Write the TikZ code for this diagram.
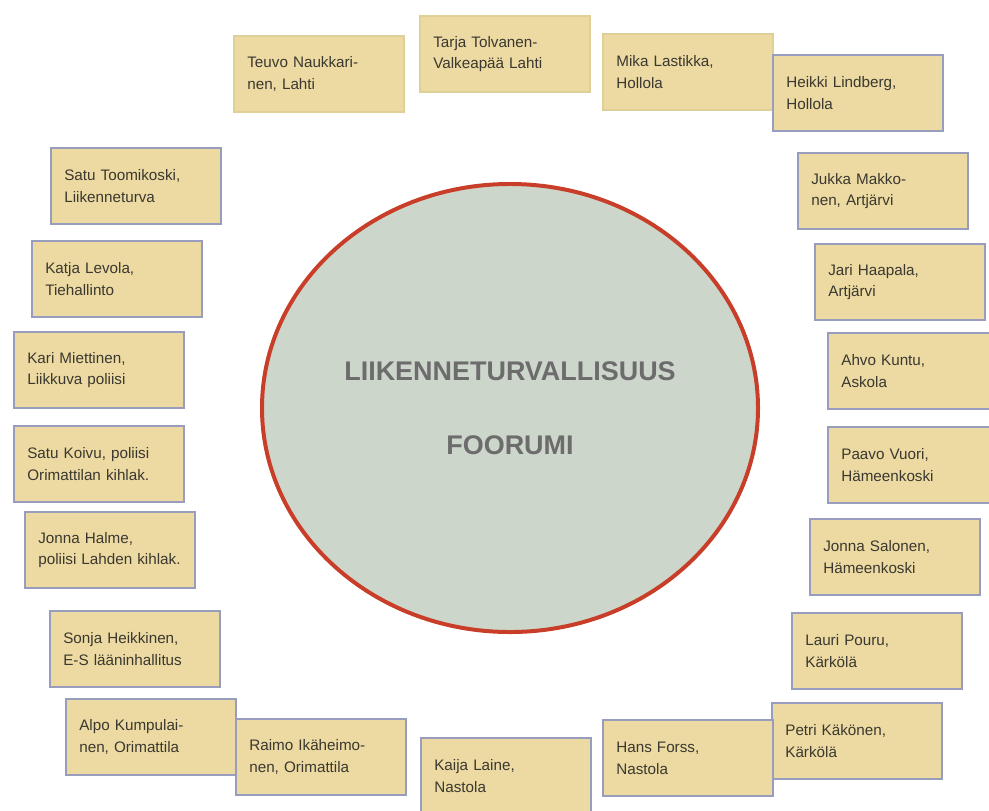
\documentclass[tikz,border=0pt]{standalone}
\usepackage{fontspec}
\setmainfont{Liberation Sans}
\usepackage{tikz}
\usetikzlibrary{shapes.geometric}
\usetikzlibrary{backgrounds,positioning}
\definecolor{boxfill}{RGB}{236,218,162}
\definecolor{boxline}{RGB}{152,157,190}
\definecolor{paleline}{RGB}{222,208,150}
\definecolor{forumfill}{RGB}{205,214,203}
\definecolor{forumline}{RGB}{200,62,40}
\definecolor{inkgray}{RGB}{58,56,48}
\hyphenpenalty=10000

\begin{document}
\begin{tikzpicture}[x=0.03cm,y=-0.03cm]
      \useasboundingbox (0,0) rectangle (989,810);
      \tikzstyle{person}=[rectangle,draw=boxline,line width=2pt,fill=boxfill,
        text=inkgray,font=\fontsize{13}{18.5}\selectfont,align=left,
        text width=4.3cm,inner xsep=0.4cm,minimum height=2.28cm]
      \tikzstyle{paleperson}=[person,draw=paleline]

      \node[ellipse,draw=forumline,line width=3.4pt,fill=forumfill,
        minimum width=14.88cm,minimum height=13.44cm,align=center,
        text=gray!85!black,font=\fontsize{23}{28}\selectfont\bfseries]
        (f) at (510,408) {LIIKENNETURVALLISUUS\\[1.25cm]FOORUMI};

      \node[paleperson] (p1)  at (319,74)  {Teuvo Naukkari-\\nen, Lahti};
      \node[paleperson] (p2)  at (505,54)  {Tarja Tolvanen-\\Valkeapää Lahti};
      \node[paleperson] (p3)  at (688,72)  {Mika Lastikka,\\Hollola};
      \node[person]     (p4)  at (858,93)  {Heikki Lindberg,\\Hollola};
      \node[person]     (p5)  at (883,191) {Jukka Makko-\\nen, Artjärvi};
      \node[person]     (p6)  at (900,282) {Jari Haapala,\\Artjärvi};
      \node[person]     (p7)  at (913,371) {Ahvo Kuntu,\\Askola};
      \node[person]     (p8)  at (913,465) {Paavo Vuori,\\Hämeenkoski};
      \node[person]     (p9)  at (895,557) {Jonna Salonen,\\Hämeenkoski};
      \node[person]     (p10) at (877,651) {Lauri Pouru,\\Kärkölä};
      \node[person]     (p11) at (857,741) {Petri Käkönen,\\Kärkölä};
      \node[person]     (p12) at (688,758) {Hans Forss,\\Nastola};
      \node[person]     (p13) at (506,776) {Kaija Laine,\\Nastola};
      \node[person]     (p14) at (321,757) {Raimo Ikäheimo-\\nen, Orimattila};
      \node[person]     (p15) at (151,737) {Alpo Kumpulai-\\nen, Orimattila};
      \node[person]     (p16) at (135,649) {Sonja Heikkinen,\\E-S lääninhallitus};
      \node[person]     (p17) at (110,550) {Jonna Halme,\\poliisi Lahden kihlak.};
      \node[person]     (p18) at (99,464)  {Satu Koivu, poliisi\\Orimattilan kihlak.};
      \node[person]     (p19) at (99,370)  {Kari Miettinen,\\Liikkuva poliisi};
      \node[person]     (p20) at (117,279) {Katja Levola,\\Tiehallinto};
      \node[person]     (p21) at (136,186) {Satu Toomikoski,\\Liikenneturva};
    \end{tikzpicture}
\end{document}
